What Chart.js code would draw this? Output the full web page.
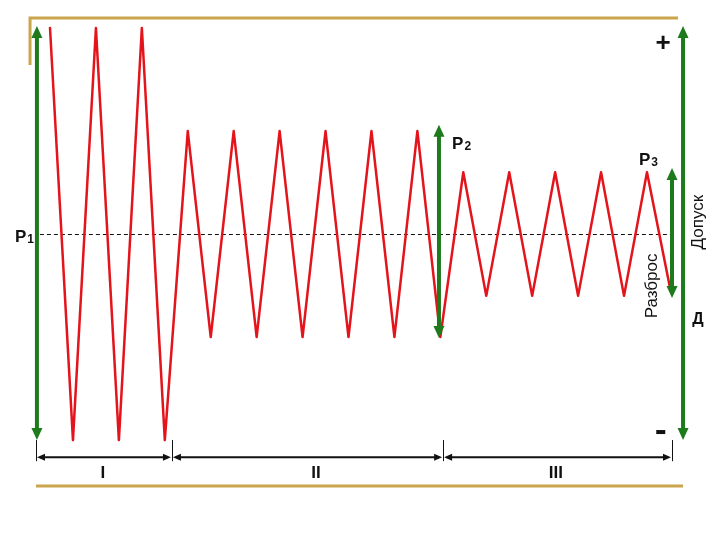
<!DOCTYPE html>
<html>
<head>
<meta charset="utf-8">
<script src="https://cdn.jsdelivr.net/npm/chart.js@4.4.1/dist/chart.umd.min.js"></script>
<style>
html,body{margin:0;padding:0;background:#fff;}
#wrap{width:720px;height:540px;}
</style>
</head>
<body>
<div id="wrap"><canvas id="c" width="720" height="540"></canvas></div>
<script>
// Zigzag amplitudes (deviation from nominal P1 = 0; tolerance = ±100), one per half-cycle step
const amplitudes = [100,-100,100,-100,100,-100,
  50,-50,50,-50,50,-50,50,-50,50,-50,50,-50,
  30,-30,30,-30,30,-30,30,-30,30,-26];
const steps = amplitudes.map((_, i) => i);
// Stage boundaries along the step axis and their labels
const stageBounds = [-0.61, 5.31, 17.12, 27.09];
const stageLabels = ['I', 'II', 'III'];
// Tolerance / spread levels
const tolerance = [100, -100];
const stage2Spread = [53, -50.5];
const stage3Spread = [32, -31];
const xRange = [-2.178, 29.18];
const yRange = [-148.5, 113.6];

const RED = '#e3141b';
const GREEN = '#1d7a1d';
const GOLD = '#c9a54c';

const annot = {
  id: 'annot',
  beforeDatasetsDraw(chart) {
    const ctx = chart.ctx, X = chart.scales.x, Y = chart.scales.y;
    const px = v => X.getPixelForValue(v), py = v => Y.getPixelForValue(v);
    ctx.save();
    // gold frame pieces
    ctx.strokeStyle = GOLD; ctx.lineWidth = 3; ctx.lineCap = 'butt';
    ctx.beginPath();
    ctx.moveTo(px(-0.87), py(82)); ctx.lineTo(px(-0.87), py(104.9)); ctx.lineTo(px(27.35), py(104.9));
    ctx.stroke();
    ctx.beginPath();
    ctx.moveTo(px(-0.61), py(-122.3)); ctx.lineTo(px(27.57), py(-122.3));
    ctx.stroke();
    // dashed nominal line
    const y0 = Math.round(py(0)) + 0.5;
    ctx.strokeStyle = '#111'; ctx.lineWidth = 1; ctx.setLineDash([4, 3]);
    ctx.beginPath(); ctx.moveTo(px(-0.44), y0); ctx.lineTo(px(27.3), y0); ctx.stroke();
    ctx.setLineDash([]);
    ctx.restore();
  },
  afterDatasetsDraw(chart) {
    const ctx = chart.ctx, X = chart.scales.x, Y = chart.scales.y;
    const px = v => X.getPixelForValue(v), py = v => Y.getPixelForValue(v);
    ctx.save();
    function vArrow(xv, top, bot) {
      const x = px(xv), y1 = py(top), y2 = py(bot), hl = 12, hw = 5.5;
      ctx.strokeStyle = GREEN; ctx.fillStyle = GREEN; ctx.lineWidth = 4;
      ctx.beginPath(); ctx.moveTo(x, y1 + hl - 1); ctx.lineTo(x, y2 - hl + 1); ctx.stroke();
      ctx.beginPath(); ctx.moveTo(x, y1); ctx.lineTo(x - hw, y1 + hl); ctx.lineTo(x + hw, y1 + hl); ctx.closePath(); ctx.fill();
      ctx.beginPath(); ctx.moveTo(x, y2); ctx.lineTo(x - hw, y2 - hl); ctx.lineTo(x + hw, y2 - hl); ctx.closePath(); ctx.fill();
    }
    vArrow(-0.57, tolerance[0] + 1, tolerance[1]);
    vArrow(27.57, tolerance[0] + 1, tolerance[1]);
    vArrow(16.94, stage2Spread[0], stage2Spread[1]);
    vArrow(27.09, stage3Spread[0], stage3Spread[1]);

    // dimension line with stage arrows
    const dy = py(-108.3);
    ctx.strokeStyle = '#111'; ctx.fillStyle = '#111'; ctx.lineWidth = 1;
    stageBounds.forEach((b) => {
      const x = Math.round(px(b)) + 0.5;
      ctx.beginPath(); ctx.moveTo(x, py(-100)); ctx.lineTo(x, dy + 4); ctx.stroke();
    });
    ctx.lineWidth = 2;
    for (let i = 0; i < stageLabels.length; i++) {
      const a = px(stageBounds[i]) + 1, b = px(stageBounds[i + 1]) - 1;
      ctx.beginPath(); ctx.moveTo(a + 3, dy); ctx.lineTo(b - 3, dy); ctx.stroke();
      ctx.beginPath(); ctx.moveTo(a, dy); ctx.lineTo(a + 8, dy - 3.5); ctx.lineTo(a + 8, dy + 3.5); ctx.closePath(); ctx.fill();
      ctx.beginPath(); ctx.moveTo(b, dy); ctx.lineTo(b - 8, dy - 3.5); ctx.lineTo(b - 8, dy + 3.5); ctx.closePath(); ctx.fill();
    }
    ctx.font = 'bold 17px "Liberation Sans Narrow", "Liberation Sans", sans-serif';
    ctx.textAlign = 'center'; ctx.textBaseline = 'alphabetic';
    const labelX = [2.3, 11.58, 22.03];
    stageLabels.forEach((t, i) => ctx.fillText(t, px(labelX[i]), py(-118.4)));

    // P labels with subscripts
    function pLabel(xv, yv, sub) {
      ctx.textAlign = 'left'; ctx.textBaseline = 'alphabetic';
      ctx.font = 'bold 17px "Liberation Sans", sans-serif';
      const x = px(xv), y = py(yv);
      ctx.fillText('P', x, y);
      const w = ctx.measureText('P').width;
      ctx.font = 'bold 12px "Liberation Sans", sans-serif';
      ctx.fillText(sub, x + w + 1, y + 1);
    }
    pLabel(-1.525, -3.9, '1');
    pLabel(17.51, 41.3, '2');
    pLabel(25.65, 33.5, '3');

    // + and -
    ctx.textAlign = 'center'; ctx.textBaseline = 'middle';
    ctx.font = 'bold 26px "Liberation Sans", sans-serif';
    ctx.fillText('+', px(26.7), py(92.5));
    ctx.fillRect(px(26.6) - 4.5, py(-96.1) - 2, 9, 4);

    // rotated texts
    ctx.font = '17px "Liberation Sans", sans-serif';
    function vText(t, xv, yv) {
      ctx.save(); ctx.translate(px(xv), py(yv)); ctx.rotate(-Math.PI / 2);
      ctx.textAlign = 'center'; ctx.textBaseline = 'middle'; ctx.fillText(t, 0, 0); ctx.restore();
    }
    vText('Допуск', 28.22, 5.8);
    vText('Разброс', 26.22, -25.2);
    ctx.font = 'bold 16px "Liberation Sans", sans-serif';
    ctx.textAlign = 'center'; ctx.textBaseline = 'middle';
    ctx.fillText('Д', px(28.22), py(-41.7));
    ctx.restore();
  }
};

new Chart(document.getElementById('c'), {
  type: 'line',
  data: {
    datasets: [{
      data: steps.map((s, i) => ({ x: s, y: amplitudes[i] })),
      borderColor: RED, borderWidth: 2.5, pointRadius: 0, tension: 0,
      borderJoinStyle: 'round', borderCapStyle: 'round', fill: false
    }]
  },
  options: {
    responsive: false, animation: false,
    layout: { padding: 0 },
    plugins: { legend: { display: false }, tooltip: { enabled: false } },
    scales: {
      x: { type: 'linear', display: false, min: xRange[0], max: xRange[1] },
      y: { type: 'linear', display: false, min: yRange[0], max: yRange[1] }
    }
  },
  plugins: [annot]
});
</script>
</body>
</html>
